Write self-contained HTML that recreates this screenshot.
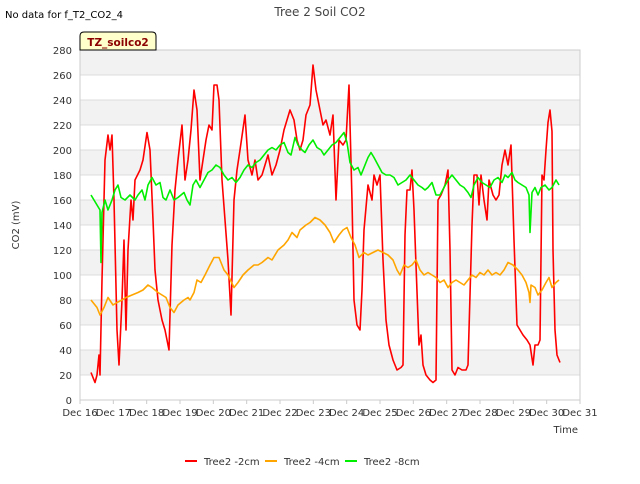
<!DOCTYPE html>
<html><head><meta charset="utf-8"><style>
body{margin:0;background:#fff;font-family:"DejaVu Sans",sans-serif}
svg text{font-family:"DejaVu Sans","Liberation Sans",sans-serif}
</style></head><body>
<svg id="chart" width="640" height="480" viewBox="0 0 640 480">
<rect width="640" height="480" fill="#fff"/>
<g id="bands"></g><g id="grid"></g>
<rect x="80" y="50" width="500" height="350" fill="none" stroke="#ccc"/>
<g id="axes"></g><g id="series"></g>
<text x="320" y="16" text-anchor="middle" font-size="12" fill="#444">Tree 2 Soil CO2</text>
<text x="5" y="18" font-size="10" fill="#000">No data for f_T2_CO2_4</text>
<g>
<path d="M80,50 L80,36 Q80,32 84,32 L152,32 Q156,32 156,36 L156,50 Z" fill="#ffffcc" stroke="#000"/>
<text x="118" y="46" text-anchor="middle" font-size="10.5" font-weight="bold" fill="#8b0000">TZ_soilco2</text>
</g>
<text x="19" y="225" transform="rotate(-90 19 225)" text-anchor="middle" font-size="10" fill="#333">CO2 (mV)</text>
<text x="578" y="433" text-anchor="end" font-size="10" fill="#333">Time</text>
<g id="legend"></g>
</svg>
<script>
const yTicks=[0,20,40,60,80,100,120,140,160,180,200,220,240,260,280];
const xTickLabels=["Dec 16","Dec 17","Dec 18","Dec 19","Dec 20","Dec 21","Dec 22","Dec 23","Dec 24","Dec 25","Dec 26","Dec 27","Dec 28","Dec 29","Dec 30","Dec 31"];
const seriesNames=["Tree2 -2cm","Tree2 -4cm","Tree2 -8cm"];
const seriesColors=["#ff0000","#ffa500","#00ee00"];
const redT=[0.33,0.45,0.51,0.57,0.6,0.66,0.75,0.84,0.9,0.96,1.02,1.11,1.17,1.26,1.32,1.38,1.44,1.53,1.59,1.65,1.8,1.89,2.01,2.1,2.19,2.25,2.34,2.46,2.55,2.67,2.76,2.85,2.94,3.06,3.15,3.24,3.33,3.42,3.51,3.6,3.69,3.78,3.87,3.96,4.02,4.11,4.17,4.26,4.35,4.44,4.53,4.62,4.71,4.8,4.95,5.04,5.16,5.25,5.34,5.46,5.55,5.64,5.76,5.88,6.0,6.12,6.3,6.42,6.51,6.6,6.69,6.78,6.9,6.99,7.08,7.2,7.29,7.38,7.5,7.59,7.68,7.77,7.89,7.98,8.07,8.16,8.22,8.31,8.4,8.46,8.52,8.64,8.76,8.82,8.91,9.0,9.09,9.18,9.27,9.39,9.51,9.63,9.69,9.75,9.81,9.9,9.96,10.02,10.08,10.17,10.23,10.29,10.38,10.5,10.59,10.68,10.74,10.83,10.95,11.04,11.1,11.16,11.25,11.34,11.46,11.58,11.64,11.76,11.82,11.91,11.97,12.03,12.12,12.21,12.27,12.39,12.48,12.57,12.66,12.75,12.84,12.93,13.02,13.11,13.2,13.29,13.41,13.5,13.59,13.65,13.74,13.8,13.86,13.92,13.98,14.04,14.1,14.16,14.19,14.25,14.31,14.4];
const redV=[22,14,20,36,20,96,192,212,200,212,160,56,28,80,128,56,120,160,144,176,184,192,214,200,144,104,80,64,56,40,124,168,192,220,176,192,216,248,232,176,192,208,220,216,252,252,240,176,144,112,68,160,184,200,228,192,180,192,176,180,188,196,180,188,200,216,232,224,208,200,208,228,236,268,248,232,220,224,212,228,160,208,204,208,252,160,80,60,56,88,136,172,160,180,172,180,112,64,44,32,24,26,28,132,168,168,184,152,108,44,52,28,20,16,14,16,160,164,172,184,120,24,20,26,24,24,28,140,180,180,156,180,160,144,176,164,160,164,188,200,188,204,128,60,56,52,48,44,28,44,44,48,180,176,200,222,232,215,120,56,36,30];
const orangeX=[91,97,100,104,108,113,117,122,126,132,138,143,148,152,158,162,166,170,174,178,184,188,190,194,197,201,205,210,214,219,224,228,234,238,243,248,254,258,262,268,272,278,284,288,292,297,300,306,310,315,320,325,330,334,339,343,347,351,355,359,364,368,373,378,383,388,393,397,400,404,408,412,416,420,424,428,432,436,440,444,448,452,456,460,464,468,472,476,480,484,488,492,496,500,504,508,513,518,522,526,529,530,531,535,538,542,546,549,552,556,559];
const orangeV=[80,74,68,74,82,76,78,80,82,84,86,88,92,90,86,84,82,74,70,76,80,82,80,86,96,94,100,108,114,114,104,100,90,94,100,104,108,108,110,114,112,120,124,128,134,130,136,140,142,146,144,140,134,126,132,136,138,130,124,114,118,116,118,120,118,116,112,104,100,108,106,108,112,104,100,102,100,98,94,96,90,94,96,94,92,96,100,98,102,100,104,100,102,100,104,110,108,104,100,94,86,78,92,90,84,88,94,98,90,94,96];
const greenX=[91,94,97,100,101,102,105,108,112,115,118,121,125,130,135,138,142,145,148,152,156,160,163,166,170,174,178,181,184,187,190,193,196,200,204,208,212,216,220,224,228,232,236,240,244,248,252,256,260,264,268,272,276,280,284,288,291,295,298,302,305,309,313,317,321,324,328,332,336,340,344,347,350,354,358,361,364,368,371,374,378,382,386,390,394,398,402,406,410,414,418,422,425,428,432,436,440,444,448,452,456,460,464,468,471,474,478,482,486,490,494,498,502,505,508,512,515,518,522,526,529,530,532,535,538,541,545,549,552,556,559];
const greenV=[164,160,156,152,110,150,160,152,160,168,172,162,160,164,160,164,168,160,172,178,172,174,162,160,168,160,162,164,166,160,156,172,176,170,176,182,184,188,186,180,176,178,174,178,184,188,186,190,192,196,200,202,200,204,206,198,196,210,204,200,198,204,208,202,200,196,200,204,206,210,214,206,190,184,186,180,186,194,198,194,188,182,180,180,178,172,174,176,180,176,172,170,168,170,174,164,164,170,176,180,176,172,170,166,162,172,178,174,172,170,176,178,174,180,178,182,176,174,172,170,164,134,166,170,164,170,172,168,170,176,172];
const orangeT=orangeX.map(x=>(x-80)/33.333);
const greenT=greenX.map(x=>(x-80)/33.333);

const NS="http://www.w3.org/2000/svg";
const X0=80,X1=580,Y0=400,Y1=50;
const xs=d=>X0+d*(X1-X0)/15;
const ys=v=>Y0-v*(Y0-Y1)/280;
function mk(tag,attrs,parent){const e=document.createElementNS(NS,tag);for(const k in attrs)e.setAttribute(k,attrs[k]);parent.appendChild(e);return e;}
const bands=document.getElementById('bands'),grid=document.getElementById('grid'),axes=document.getElementById('axes');
for(let i=0;i<yTicks.length-1;i++){
  if(i%2===1){const r=mk('rect',{x:X0,y:ys(yTicks[i+1]),width:X1-X0,height:ys(yTicks[i])-ys(yTicks[i+1]),fill:'#f2f2f2'},bands);
  
  }
}
yTicks.forEach(v=>{
  const l=mk('line',{x1:X0,x2:X1,y1:ys(v),y2:ys(v),stroke:'#dcdcdc'},grid);
  
  
  const t=mk('text',{x:X0-8,y:ys(v)+4,'text-anchor':'end','font-size':10,fill:'#333'},axes);
  t.textContent=v;
  
  
});
xTickLabels.forEach((s,i)=>{
  const tk=mk('line',{x1:xs(i),x2:xs(i),y1:Y0,y2:Y0+4,stroke:'#ccc'},axes);
  
  
  const t=mk('text',{x:xs(i),y:Y0+16,'text-anchor':'middle','font-size':10,fill:'#333'},axes);
  t.textContent=s;
  
  
});
const ser=document.getElementById('series');
[[redT,redV],[orangeT,orangeV],[greenT,greenV]].forEach((s,i)=>{
  const d=s[0].map((t,j)=>(j?'L':'M')+xs(t).toFixed(1)+','+ys(s[1][j]).toFixed(1)).join('');
  const p=mk('path',{d:d,fill:'none',stroke:seriesColors[i],'stroke-width':1.6,'stroke-linejoin':'round'},ser);
  
  
});
const lg=document.getElementById('legend');
const lx=[185,265,345];
seriesNames.forEach((n,i)=>{
  const g=mk('g',{},lg);
  
  
  mk('line',{x1:lx[i],x2:lx[i]+12,y1:461,y2:461,stroke:seriesColors[i],'stroke-width':2},g);
  const t=mk('text',{x:lx[i]+19,y:465,'font-size':10,fill:'#333'},g);
  t.textContent=n;
});
</script>
</body></html>
